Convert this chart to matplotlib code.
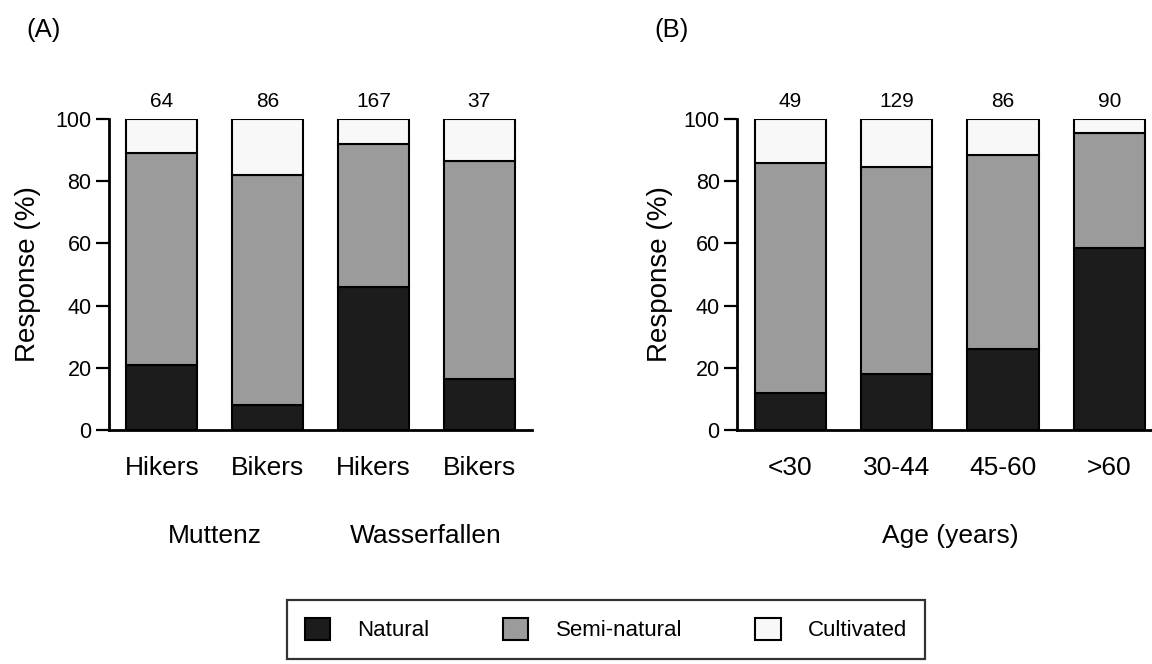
#!/usr/bin/env python3

import matplotlib.pyplot as plt
import numpy as np

plt.rcParams["font.family"] = ["Liberation Sans", "DejaVu Sans"]

# (A) site / user group
groupsA = ["Hikers", "Bikers", "Hikers", "Bikers"]
sitesA = ["Muttenz", "Wasserfallen"]
nA = [64, 86, 167, 37]
naturalA = [21, 8, 46, 16.5]
semiA = [68, 74, 46, 70]
cultA = [11, 18, 8, 13.5]

# (B) age classes
groupsB = ["<30", "30-44", "45-60", ">60"]
nB = [49, 129, 86, 90]
naturalB = [12, 18, 26, 58.5]
semiB = [74, 66.5, 62.5, 37]
cultB = [14, 15.5, 11.5, 4.5]

colNatural = "#1c1c1c"
colSemi = "#9b9b9b"
colCult = "#f8f8f8"


def stacked(ax, labels, n, nat, semi, cult, xmax, ylabx):
    x = np.arange(len(labels))
    nat = np.array(nat)
    semi = np.array(semi)
    cult = np.array(cult)
    kw = dict(width=0.67, edgecolor="black", linewidth=1.5)
    ax.bar(x, nat, color=colNatural, label="Natural", **kw)
    ax.bar(x, semi, bottom=nat, color=colSemi, label="Semi-natural", **kw)
    ax.bar(x, cult, bottom=nat + semi, color=colCult, label="Cultivated", **kw)
    for xi, ni in zip(x, n):
        ax.text(xi, 102.5, str(ni), ha="center", va="bottom", fontsize=15)

    ax.set_xlim(-0.5, xmax)
    ax.set_ylim(0, 100)
    ax.set_yticks([0, 20, 40, 60, 80, 100])
    ax.set_xticks(x)
    ax.set_xticklabels(labels, fontsize=19)
    ax.tick_params(axis="x", length=0, pad=19)
    ax.tick_params(axis="y", length=9.5, width=1.6, labelsize=15.5, pad=3)
    ax.spines["top"].set_visible(False)
    ax.spines["right"].set_visible(False)
    ax.spines["left"].set_linewidth(2)
    ax.spines["bottom"].set_linewidth(2)
    ax.set_ylabel("Response (%)", fontsize=20)
    ax.yaxis.set_label_coords(ylabx, 0.5)


def main():
    fig = plt.figure(figsize=(11.52, 6.64), dpi=100)
    axA = fig.add_axes([0.0946, 0.3524, 0.3672, 0.4684])
    axB = fig.add_axes([0.6398, 0.3524, 0.3602, 0.4684])

    stacked(axA, groupsA, nA, naturalA, semiA, cultA, 3.5, -0.161)
    stacked(axB, groupsB, nB, naturalB, semiB, cultB, 3.4, -0.154)

    # site names under panel A
    for xi, s in zip([0.5, 2.5], sitesA):
        axA.text(xi, -0.341, s, transform=axA.get_xaxis_transform(),
                 ha="center", va="center", fontsize=19)
    axB.text(1.5, -0.341, "Age (years)", transform=axB.get_xaxis_transform(),
             ha="center", va="center", fontsize=19)

    fig.text(0.023, 0.955, "(A)", fontsize=18.5, va="center")
    fig.text(0.568, 0.955, "(B)", fontsize=18.5, va="center")

    handles, labels = axA.get_legend_handles_labels()
    leg = fig.legend(handles, labels, loc="upper center", ncol=3,
                     bbox_to_anchor=(0.526, 1 - 600 / 664), fontsize=16,
                     frameon=True, fancybox=False, edgecolor="black",
                     handlelength=1.14, handleheight=1.14, columnspacing=3.3,
                     handletextpad=1.23, borderpad=0.8, borderaxespad=0)
    leg.get_frame().set_linewidth(1.6)

    fig.savefig("out.png", dpi=100)


if __name__ == "__main__":
    main()
